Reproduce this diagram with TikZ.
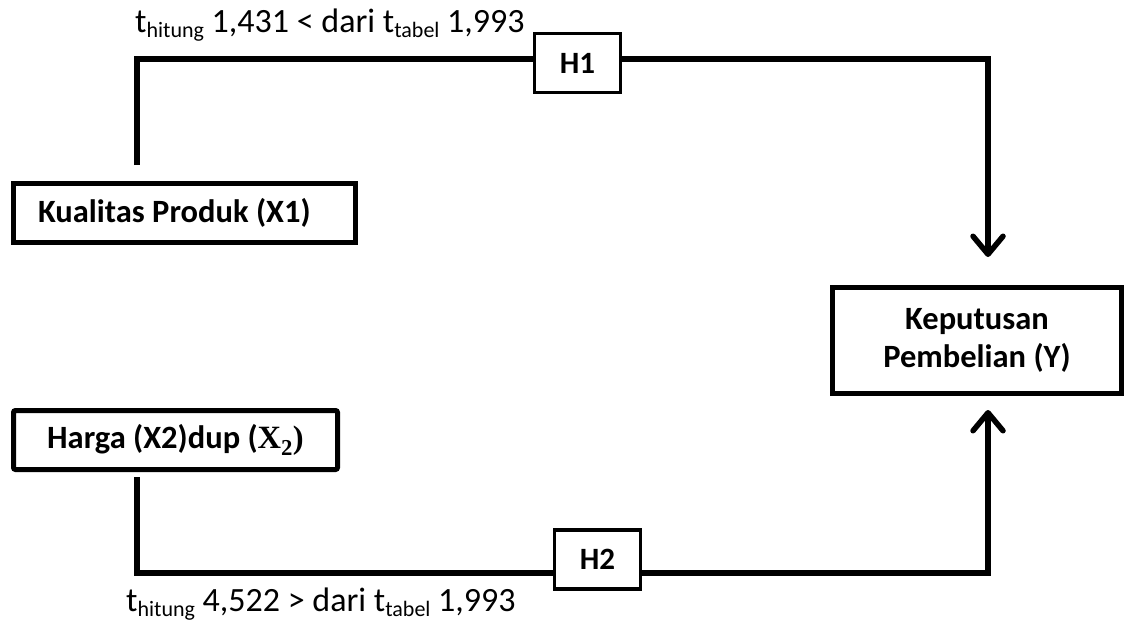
\documentclass[tikz,border=0pt]{standalone}
\usepackage{fontspec}
\setmainfont{Carlito}
\newfontfamily\tms{Liberation Serif}
\usetikzlibrary{arrows.meta}
\newcommand{\subtxt}[1]{\raisebox{-0.13em}{\fontsize{22}{22}\selectfont #1}}
\begin{document}
\begin{tikzpicture}[x=1pt,y=-1pt,
  bigbox/.style={draw, line width=5pt, font=\fontsize{32.5}{38}\selectfont\bfseries, inner sep=0pt},
  hbox/.style={draw, line width=3.5pt, font=\fontsize{31}{34}\selectfont\bfseries, inner sep=0pt, minimum width=86pt, minimum height=59pt},
  conn/.style={line width=5.5pt},
  arr/.style={conn, -{Straight Barb[length=18pt,width=30pt,round]}},
  lbl/.style={font=\fontsize{34}{40}\selectfont, inner sep=0pt}]
\useasboundingbox (0,0) rectangle (1134,624);

% boxes
\node[bigbox, minimum width=342pt, minimum height=59pt, text width=293pt, inner xsep=24.5pt, align=flush left] (x1) at (184.5,213) {Kualitas Produk (X1)};
\node[bigbox, rounded corners=2pt, minimum width=324pt, minimum height=59pt] (x2) at (175.5,440) {Harga (X2)dup ({\tms\bfseries X\textsubscript{\tms\bfseries 2})}};
\node[bigbox, minimum width=289pt, minimum height=106pt, align=center] (y) at (977,340.5) {Keputusan\\Pembelian (Y)};
\node[hbox] (h1) at (577.5,63) {H1};
\node[hbox] (h2) at (597.5,559.5) {H2};

% labels
\node[lbl, anchor=west] (l1) at (135,25) {t\subtxt{hitung} 1,431 < dari t\subtxt{tabel} 1,993};
\node[lbl, anchor=west] (l2) at (126,604) {t\subtxt{hitung} 4,522 > dari t\subtxt{tabel} 1,993};

% connector points
\coordinate (x1s) at (137,165);
\coordinate (c1) at (137,59);
\coordinate (yt) at (988,257);
\coordinate (x2s) at (137,477);
\coordinate (c2) at (137,573);
\coordinate (yb) at (988,410);

\draw[conn] (x1s) -- (c1) -- (h1.west |- c1);
\draw[arr] (h1.east |- c1) -| (yt);
\draw[conn] (x2s) -- (c2) -- (h2.west |- c2);
\draw[arr] (h2.east |- c2) -| (yb);
\end{tikzpicture}
\end{document}
